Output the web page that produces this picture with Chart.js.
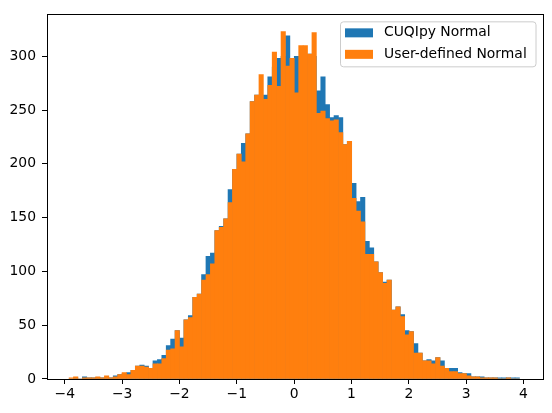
<!DOCTYPE html>
<html>
<head>
<meta charset="utf-8">
<script src="https://cdn.jsdelivr.net/npm/chart.js@4/dist/chart.umd.min.js"></script>
<style>
  html, body { margin: 0; padding: 0; background: #fff; }
  #wrap { width: 552px; height: 413px; }
</style>
</head>
<body>
<div id="wrap"><canvas id="histChart" width="552" height="413"></canvas></div>
<script>
// histogram bins (102 equal bins, like numpy.histogram)
const binMin = -3.925;
const binMax = 3.93;
const binCount = 102;

// counts, left to right
const cuqipyCounts = [
  0, 1, 0, 2, 1, 1, 1, 1, 1, 1,
  3, 4, 5, 6, 8, 12, 13, 12, 10, 17,
  18, 22, 31, 37, 45, 38, 55, 59, 76, 79,
  97, 114, 117, 138, 142, 149, 176, 195, 209, 219,
  228, 258, 264, 262, 264, 281, 290, 298, 300, 319,
  298, 300, 290, 300, 302, 300, 268, 281, 255, 243,
  245, 243, 218, 221, 182, 165, 169, 128, 122, 109,
  99, 90, 92, 64, 67, 60, 45, 44, 33, 24,
  17, 18, 17, 20, 17, 10, 10, 10, 6, 5,
  5, 2, 2, 2, 1, 1, 1, 1, 1, 1,
  1, 1
];
const userCounts = [
  1, 2, 0, 1, 1, 1, 2, 1, 3, 1,
  2, 4, 6, 4, 8, 12, 12, 11, 10, 14,
  14, 19, 27, 28, 45, 30, 55, 57, 76, 79,
  92, 97, 107, 138, 141, 149, 164, 195, 209, 202,
  228, 258, 264, 283, 260, 273, 304, 272, 323, 291,
  298, 266, 310, 310, 302, 322, 247, 249, 242, 240,
  241, 229, 218, 221, 168, 156, 146, 116, 116, 109,
  99, 89, 92, 64, 67, 58, 41, 44, 24, 24,
  17, 17, 14, 20, 12, 10, 7, 7, 5, 5,
  3, 2, 2, 1, 1, 1, 1, 0, 0, 1,
  0, 0
];

const seriesLabels = ['CUQIpy Normal', 'User-defined Normal'];
const seriesColors = ['#1f77b4', '#ff7f0e'];
const xTicks = [-4, -3, -2, -1, 0, 1, 2, 3, 4];
const yTicks = [0, 50, 100, 150, 200, 250, 300];

const FONT = 'DejaVu Sans';
const binWidth = (binMax - binMin) / binCount;
const binCenters = cuqipyCounts.map((_, i) => binMin + (i + 0.5) * binWidth);

function toPoints(counts) {
  return counts.map((c, i) => ({ x: binCenters[i], y: c }));
}

// axes frame (all four spines)
const framePlugin = {
  id: 'frame',
  afterDatasetsDraw(chart) {
    const { ctx, chartArea: a } = chart;
    ctx.save();
    ctx.strokeStyle = '#000';
    ctx.lineWidth = 1;
    ctx.strokeRect(Math.round(a.left) + 0.5, Math.round(a.top) + 0.5,
      Math.round(a.right - a.left), Math.round(a.bottom - a.top));
    ctx.restore();
  }
};

// legend box in the upper right, inside the axes
const legendPlugin = {
  id: 'innerLegend',
  afterDraw(chart) {
    const ctx = chart.ctx;
    const a = chart.chartArea;
    const boxRight = a.right - 7;
    const boxLeft = 340.5;
    const boxTop = a.top + 7.5;
    const boxH = 45;
    ctx.save();
    ctx.beginPath();
    ctx.roundRect(boxLeft, boxTop, boxRight - boxLeft, boxH, 3);
    ctx.fillStyle = 'rgba(255,255,255,0.8)';
    ctx.fill();
    ctx.strokeStyle = '#cccccc';
    ctx.lineWidth = 1;
    ctx.stroke();
    ctx.font = '13.9px "' + FONT + '"';
    ctx.textBaseline = 'middle';
    ctx.textAlign = 'left';
    chart.data.datasets.forEach((ds, i) => {
      const cy = boxTop + 11 + i * 21.5;
      ctx.fillStyle = ds.backgroundColor;
      ctx.fillRect(boxLeft + 4.5, cy - 4.5, 28, 9);
      ctx.fillStyle = '#000';
      ctx.fillText(ds.label, boxLeft + 43.5, cy);
    });
    ctx.restore();
  }
};

const minus = (v) => String(v).replace('-', '\u2212');

new Chart(document.getElementById('histChart'), {
  type: 'bar',
  data: {
    datasets: [
      {
        label: seriesLabels[0],
        data: toPoints(cuqipyCounts),
        backgroundColor: seriesColors[0],
        borderWidth: 0,
        order: 2,
      },
      {
        label: seriesLabels[1],
        data: toPoints(userCounts),
        backgroundColor: seriesColors[1],
        borderWidth: 0,
        order: 1,
      },
    ],
  },
  options: {
    responsive: false,
    animation: false,
    devicePixelRatio: 1,
    grouped: false,
    categoryPercentage: 1.0,
    barPercentage: 1.0,
    layout: { padding: { top: 10, right: 9, bottom: 0, left: 0 } },
    plugins: {
      legend: { display: false },
      tooltip: { enabled: false },
    },
    scales: {
      x: {
        type: 'linear',
        min: -4.31,
        max: 4.34,
        offset: false,
        grid: { offset: false, drawOnChartArea: false, drawTicks: true, tickLength: 5, color: '#000' },
        border: { display: false },
        afterBuildTicks: (scale) => { scale.ticks = xTicks.map((v) => ({ value: v })); },
        afterFit: (scale) => { scale.height = 34; },
        ticks: {
          color: '#000',
          padding: 2,
          maxRotation: 0,
          autoSkip: false,
          font: { family: FONT, size: 13.9 },
          callback: minus,
        },
      },
      y: {
        type: 'linear',
        min: 0,
        max: 339,
        grid: { drawOnChartArea: false, drawTicks: true, tickLength: 5, color: '#000' },
        border: { display: false },
        afterBuildTicks: (scale) => { scale.ticks = yTicks.map((v) => ({ value: v })); },
        afterFit: (scale) => { scale.width = 47; },
        ticks: {
          color: '#000',
          padding: 6,
          autoSkip: false,
          font: { family: FONT, size: 13.9 },
          callback: minus,
        },
      },
    },
  },
  plugins: [framePlugin, legendPlugin],
});
</script>
</body>
</html>
